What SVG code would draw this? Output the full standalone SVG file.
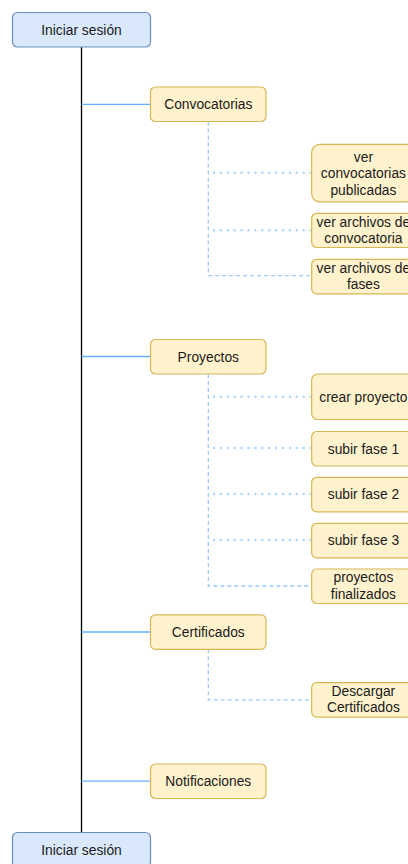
<svg xmlns="http://www.w3.org/2000/svg" width="408" height="864" viewBox="0 0 408 864">
  <style>
    .start rect { fill: #dae8fc; stroke: #6c8ebf; stroke-width: 1.2; }
    .menu rect, .item rect { fill: #fff2cc; stroke: #d6b656; stroke-width: 1.2; }
    text { font-family: "Liberation Sans", Arial, sans-serif; font-size: 13.8px; fill: #1a1a1a; text-anchor: middle; }
    .spine { stroke: #000000; stroke-width: 1.3; fill: none; }
    .branch { stroke: #66b2ff; stroke-width: 1.3; fill: none; }
    .dash { stroke: #99ccff; stroke-width: 1.3; stroke-dasharray: 4 3; fill: none; }
    .dot { stroke: #a8d3ff; stroke-width: 2.4; stroke-dasharray: 0 6.9; stroke-linecap: round; fill: none; }
  </style>

  <!-- connectors -->
  <g id="connectors">
    <line class="spine" x1="81.5" y1="47" x2="81.5" y2="832.5"/>
    <line class="branch" x1="81.5" y1="104.3" x2="150.5" y2="104.3"/>
    <line class="branch" x1="81.5" y1="356.5" x2="150.5" y2="356.5"/>
    <line class="branch" x1="81.5" y1="632" x2="150.5" y2="632"/>
    <line class="branch" x1="81.5" y1="781.2" x2="150.5" y2="781.2"/>

    <!-- Convocatorias children -->
    <path class="dash" d="M208.3 121.5 V275.7 H311.7"/>
    <line class="dot" x1="214" y1="172.7" x2="311" y2="172.7"/>
    <line class="dot" x1="214" y1="230.2" x2="311" y2="230.2"/>

    <!-- Proyectos children -->
    <path class="dash" d="M208.3 374 V586 H311.7"/>
    <line class="dot" x1="214" y1="396.7" x2="311" y2="396.7"/>
    <line class="dot" x1="214" y1="448" x2="311" y2="448"/>
    <line class="dot" x1="214" y1="494" x2="311" y2="494"/>
    <line class="dot" x1="214" y1="540" x2="311" y2="540"/>

    <!-- Certificados child -->
    <path class="dash" d="M208.3 649.3 V699.8 H311.7"/>
  </g>

  <!-- nodes -->
  <g id="login-top" class="start">
    <rect x="12.5" y="12.5" width="138" height="34.5" rx="5"/>
    <text x="81.5" y="34.5">Iniciar sesión</text>
  </g>

  <g id="convocatorias" class="menu">
    <rect x="150.5" y="87" width="115.5" height="34.5" rx="5"/>
    <text x="208.3" y="109">Convocatorias</text>
  </g>
  <g id="ver-convocatorias" class="item">
    <rect x="311.7" y="144.3" width="103.5" height="57.5" rx="8"/>
    <text x="363.4" y="161.5">ver</text>
    <text x="363.4" y="178">convocatorias</text>
    <text x="363.4" y="194.5">publicadas</text>
  </g>
  <g id="archivos-convocatoria" class="item">
    <rect x="311.7" y="213.3" width="103.5" height="34.2" rx="5"/>
    <text x="363.4" y="226.6">ver archivos de</text>
    <text x="363.4" y="243">convocatoria</text>
  </g>
  <g id="archivos-fases" class="item">
    <rect x="311.7" y="259.3" width="103.5" height="34.5" rx="5"/>
    <text x="363.4" y="272.6">ver archivos de</text>
    <text x="363.4" y="289">fases</text>
  </g>

  <g id="proyectos" class="menu">
    <rect x="150.5" y="339.5" width="115.5" height="34.5" rx="5"/>
    <text x="208.3" y="361.5">Proyectos</text>
  </g>
  <g id="crear-proyecto" class="item">
    <rect x="311.7" y="374" width="103.5" height="45.5" rx="6"/>
    <text x="363.4" y="401.5">crear proyecto</text>
  </g>
  <g id="fase-1" class="item">
    <rect x="311.7" y="431.5" width="103.5" height="34.5" rx="5"/>
    <text x="363.4" y="453.5">subir fase 1</text>
  </g>
  <g id="fase-2" class="item">
    <rect x="311.7" y="477.3" width="103.5" height="34.5" rx="5"/>
    <text x="363.4" y="499.3">subir fase 2</text>
  </g>
  <g id="fase-3" class="item">
    <rect x="311.7" y="523.3" width="103.5" height="34.5" rx="5"/>
    <text x="363.4" y="545.3">subir fase 3</text>
  </g>
  <g id="finalizados" class="item">
    <rect x="311.7" y="569" width="103.5" height="34.5" rx="5"/>
    <text x="363.4" y="582.3">proyectos</text>
    <text x="363.4" y="598.7">finalizados</text>
  </g>

  <g id="certificados" class="menu">
    <rect x="150.5" y="614.8" width="115.5" height="34.5" rx="5"/>
    <text x="208.3" y="636.8">Certificados</text>
  </g>
  <g id="descargar" class="item">
    <rect x="311.7" y="682.6" width="103.5" height="34.5" rx="5"/>
    <text x="363.4" y="695.9">Descargar</text>
    <text x="363.4" y="712.3">Certificados</text>
  </g>

  <g id="notificaciones" class="menu">
    <rect x="150.5" y="764" width="115.5" height="34.5" rx="5"/>
    <text x="208.3" y="786">Notificaciones</text>
  </g>

  <g id="login-bottom" class="start">
    <rect x="12.5" y="832.5" width="138" height="34.5" rx="5"/>
    <text x="81.5" y="854.5">Iniciar sesión</text>
  </g>
</svg>
